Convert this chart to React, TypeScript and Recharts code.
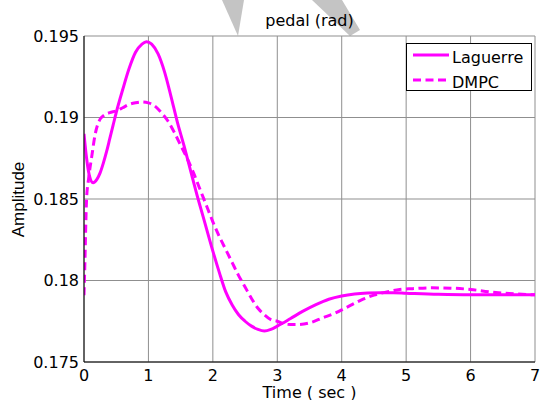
import React from 'react';
import { LineChart, Line, XAxis, YAxis, CartesianGrid, Legend } from 'recharts';

const chartTitle = 'pedal (rad)';
const xAxisLabel = 'Time ( sec )';
const yAxisLabel = 'Amplitude';
const seriesNames = ['Laguerre', 'DMPC'];

const xTicks = [0, 1, 2, 3, 4, 5, 6, 7];
const yTicks = [0.175, 0.18, 0.185, 0.19, 0.195];

const lagTime = [0, 0.04, 0.08, 0.14, 0.2, 0.25, 0.3, 0.35, 0.4, 0.45, 0.5, 0.6, 0.7, 0.8, 0.9, 0.97, 1.05, 1.15, 1.25, 1.35, 1.45, 1.55, 1.65, 1.75, 1.85, 2.0, 2.1, 2.2, 2.3, 2.4, 2.5, 2.6, 2.7, 2.8, 2.9, 3.0, 3.2, 3.4, 3.6, 3.8, 4.0, 4.2, 4.4, 4.6, 4.8, 5.0, 5.5, 6.0, 6.5, 7.0];
const lagValue = [0.189, 0.1875, 0.1865, 0.186, 0.1862, 0.1866, 0.1872, 0.1879, 0.1887, 0.1895, 0.1903, 0.1917, 0.193, 0.194, 0.1945, 0.19465, 0.1945, 0.1939, 0.1928, 0.1913, 0.1897, 0.1883, 0.1868, 0.1853, 0.1839, 0.1818, 0.1805, 0.1793, 0.1785, 0.1779, 0.1775, 0.1772, 0.177, 0.1769, 0.177, 0.1772, 0.17765, 0.17812, 0.17852, 0.17885, 0.17905, 0.17917, 0.17923, 0.17925, 0.17925, 0.17922, 0.17915, 0.17912, 0.17912, 0.17912];

const dmpcTime = [0, 0.01, 0.04, 0.07, 0.12, 0.17, 0.25, 0.3, 0.4, 0.5, 0.6, 0.7, 0.8, 0.9, 1.0, 1.1, 1.2, 1.3, 1.4, 1.5, 1.6, 1.7, 1.8, 1.9, 2.0, 2.1, 2.2, 2.3, 2.4, 2.5, 2.6, 2.7, 2.8, 2.9, 3.0, 3.1, 3.2, 3.3, 3.5, 3.7, 3.9, 4.1, 4.3, 4.5, 4.7, 4.9, 5.1, 5.4, 5.7, 6.0, 6.3, 6.6, 7.0];
const dmpcValue = [0.1791, 0.1805, 0.185, 0.1862, 0.1876, 0.1889, 0.1899, 0.1901, 0.1903, 0.1904, 0.1906, 0.1908, 0.1909, 0.19095, 0.1909, 0.1907, 0.1903, 0.1898, 0.1891, 0.1883, 0.1875, 0.1866, 0.1856, 0.1846, 0.1836, 0.1827, 0.1819, 0.1811, 0.1803, 0.1796, 0.1789, 0.1783, 0.1779, 0.1776, 0.1775, 0.17735, 0.1773, 0.1773, 0.1774, 0.1777, 0.178, 0.1784, 0.1788, 0.1791, 0.1793, 0.17945, 0.1795, 0.17955, 0.17953, 0.17945, 0.1793, 0.1792, 0.17912];

const lagData = lagTime.map((t, i) => ({ t, v: lagValue[i] }));
const dmpcData = dmpcTime.map((t, i) => ({ t, v: dmpcValue[i] }));

const MAGENTA = '#ff00ff';
const seriesDash = ['', '8 4.5'];
const FONT = 'DejaVu Sans, Arial, sans-serif';

const renderLegend = (props: any) => {
  const payload = props.payload || [];
  const ordered = seriesNames
    .map((name) => payload.find((p: any) => p.value === name))
    .filter(Boolean);
  return (
    <svg width={126} height={48} style={{ display: 'block' }}>
      <rect x={0.5} y={0.5} width={125} height={47} fill="#fff" stroke="#000" strokeWidth={1} />
      {ordered.map((entry: any, i: number) => {
        const cy = 12 + i * 25;
        const idx = seriesNames.indexOf(entry.value);
        return (
          <g key={entry.value}>
            <line x1={7} x2={43} y1={cy} y2={cy} stroke={entry.color || MAGENTA} strokeWidth={3} strokeDasharray={seriesDash[idx] || undefined} />
            <text x={46} y={cy + 8} fontFamily={FONT} fontSize={16} fill="#000">{entry.value}</text>
          </g>
        );
      })}
    </svg>
  );
};

export default function App() {
  return (
    <div style={{ position: 'absolute', left: 0, top: 0, width: 541, height: 400, background: '#fff' }}>
      <svg width={541} height={400} style={{ position: 'absolute', left: 0, top: 0 }}>
        <polygon points="222,0 244,0 238,36" fill="#c4c4c4" />
        <polygon points="312,0 342,0 360,30 350,36" fill="#c4c4c4" />
        <rect x={84} y={36} width={451} height={326} fill="#fff" />
      </svg>
      <div style={{ position: 'absolute', left: 0, top: 0 }}>
        <LineChart width={541} height={400} margin={{ top: 36, right: 6, bottom: 0, left: 0 }}>
          <CartesianGrid stroke="#8f8f8f" strokeWidth={1} xAxisId="main" yAxisId="main" />
          <XAxis
            xAxisId="main"
            type="number"
            dataKey="t"
            domain={[0, 7]}
            ticks={xTicks}
            allowDataOverflow
            height={38}
            tickLine={false}
            tickSize={4}
            tickMargin={4}
            axisLine={{ stroke: '#000', strokeWidth: 1 }}
            tick={{ fontSize: 16, fontFamily: FONT, fill: '#000' }}
            interval={0}
          />
          <XAxis
            xAxisId="top"
            orientation="top"
            type="number"
            domain={[0, 7]}
            ticks={xTicks}
            height={0}
            tick={false}
            tickLine={false}
            axisLine={{ stroke: '#000', strokeWidth: 1 }}
          />
          <YAxis
            yAxisId="main"
            type="number"
            domain={[0.175, 0.195]}
            ticks={yTicks}
            allowDataOverflow
            width={84}
            tickLine={false}
            tickSize={3}
            tickMargin={2}
            axisLine={{ stroke: '#000', strokeWidth: 1 }}
            tick={{ fontSize: 16, fontFamily: FONT, fill: '#000' }}
            interval={0}
          />
          <YAxis
            yAxisId="right"
            orientation="right"
            type="number"
            domain={[0.175, 0.195]}
            ticks={yTicks}
            width={0}
            tick={false}
            tickLine={false}
            axisLine={{ stroke: '#000', strokeWidth: 1 }}
          />
          <Line
            xAxisId="main"
            yAxisId="main"
            data={lagData}
            dataKey="v"
            name={seriesNames[0]}
            type="monotone"
            stroke={MAGENTA}
            strokeWidth={3}
            dot={false}
            activeDot={false}
            isAnimationActive={false}
          />
          <Line
            xAxisId="main"
            yAxisId="main"
            data={dmpcData}
            dataKey="v"
            name={seriesNames[1]}
            type="monotone"
            stroke={MAGENTA}
            strokeWidth={3}
            strokeDasharray={seriesDash[1]}
            dot={false}
            activeDot={false}
            isAnimationActive={false}
          />
          <Legend
            layout="vertical"
            align="center"
            verticalAlign="middle"
            content={renderLegend}
            wrapperStyle={{ position: 'absolute', left: 406, top: 43, width: 126, height: 48 }}
          />
        </LineChart>
      </div>
      <svg width={541} height={400} style={{ position: 'absolute', left: 0, top: 0, pointerEvents: 'none' }}>
        <text x={309.5} y={25.5} textAnchor="middle" fontFamily={FONT} fontSize={16} fill="#000">{chartTitle}</text>
        <text x={309.5} y={397.5} textAnchor="middle" fontFamily={FONT} fontSize={16} fill="#000">{xAxisLabel}</text>
        <text x={24} y={199.5} transform="rotate(-90 24 199.5)" textAnchor="middle" fontFamily="Liberation Sans, Arial, sans-serif" fontSize={17} fill="#000">{yAxisLabel}</text>
      </svg>
    </div>
  );
}
